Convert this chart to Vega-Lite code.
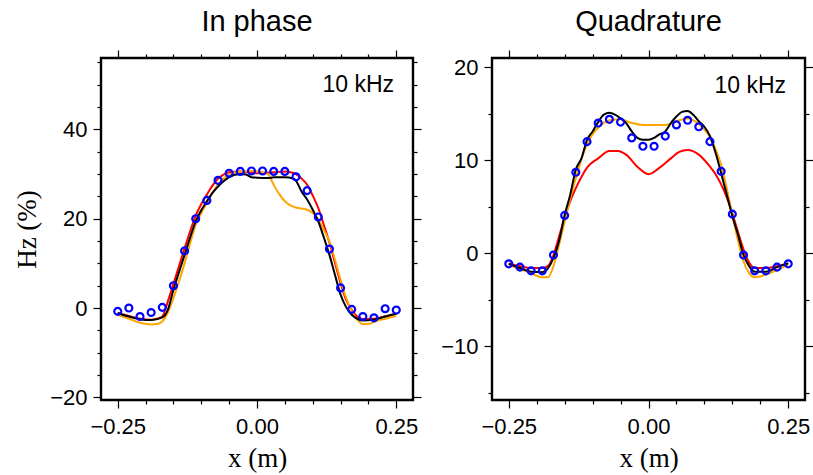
{
  "$schema": "https://vega.github.io/schema/vega-lite/v6.json",
  "background": "white",
  "padding": {"left": 12, "top": 7, "right": 2, "bottom": 3},
  "bounds": "flush",
  "spacing": 79,
  "datasets": {
    "ipRed": [
      {"x": -0.25, "y": -1.1}, {"x": -0.23, "y": -1.8}, {"x": -0.21, "y": -2.4}, {"x": -0.19, "y": -2.6}, {"x": -0.18, "y": -2.4},
      {"x": -0.17, "y": -1.9}, {"x": -0.16, "y": 1.5}, {"x": -0.15, "y": 5.4}, {"x": -0.14, "y": 9.4}, {"x": -0.13, "y": 13.4},
      {"x": -0.12, "y": 17.2}, {"x": -0.11, "y": 20.7}, {"x": -0.1, "y": 23.3}, {"x": -0.09, "y": 25.4}, {"x": -0.08, "y": 27.4},
      {"x": -0.07, "y": 29.0}, {"x": -0.06, "y": 29.9}, {"x": -0.05, "y": 30.4}, {"x": -0.03, "y": 30.6}, {"x": 0.0, "y": 30.2},
      {"x": 0.03, "y": 30.4}, {"x": 0.05, "y": 30.6}, {"x": 0.06, "y": 30.4}, {"x": 0.07, "y": 30.0}, {"x": 0.08, "y": 29.0},
      {"x": 0.09, "y": 27.6}, {"x": 0.1, "y": 25.2}, {"x": 0.11, "y": 22.4}, {"x": 0.12, "y": 18.6}, {"x": 0.13, "y": 14.6},
      {"x": 0.14, "y": 10.1}, {"x": 0.15, "y": 5.6}, {"x": 0.16, "y": 1.8}, {"x": 0.17, "y": -0.4}, {"x": 0.18, "y": -1.9},
      {"x": 0.19, "y": -2.5}, {"x": 0.21, "y": -2.4}, {"x": 0.23, "y": -1.9}, {"x": 0.25, "y": -1.3}
    ],
    "ipOrange": [
      {"x": -0.25, "y": -1.5}, {"x": -0.23, "y": -2.4}, {"x": -0.21, "y": -3.3}, {"x": -0.19, "y": -3.7}, {"x": -0.18, "y": -3.6},
      {"x": -0.17, "y": -3.0}, {"x": -0.16, "y": -1.0}, {"x": -0.15, "y": 2.2}, {"x": -0.14, "y": 6.0}, {"x": -0.13, "y": 10.0},
      {"x": -0.12, "y": 14.5}, {"x": -0.11, "y": 18.7}, {"x": -0.1, "y": 21.3}, {"x": -0.09, "y": 23.5}, {"x": -0.08, "y": 25.7},
      {"x": -0.07, "y": 27.6}, {"x": -0.06, "y": 29.0}, {"x": -0.05, "y": 29.9}, {"x": -0.03, "y": 30.6}, {"x": -0.01, "y": 30.7},
      {"x": 0.01, "y": 30.4}, {"x": 0.02, "y": 29.9}, {"x": 0.03, "y": 27.6}, {"x": 0.04, "y": 25.5}, {"x": 0.05, "y": 23.9},
      {"x": 0.06, "y": 23.0}, {"x": 0.07, "y": 22.5}, {"x": 0.09, "y": 22.0}, {"x": 0.1, "y": 21.3}, {"x": 0.11, "y": 19.8},
      {"x": 0.12, "y": 17.5}, {"x": 0.13, "y": 14.9}, {"x": 0.14, "y": 10.8}, {"x": 0.15, "y": 6.3}, {"x": 0.16, "y": 2.3},
      {"x": 0.17, "y": -0.7}, {"x": 0.18, "y": -2.6}, {"x": 0.19, "y": -3.6}, {"x": 0.2, "y": -3.6}, {"x": 0.21, "y": -3.1},
      {"x": 0.23, "y": -2.4}, {"x": 0.25, "y": -1.8}
    ],
    "ipBlack": [
      {"x": -0.25, "y": -1.1}, {"x": -0.23, "y": -1.9}, {"x": -0.21, "y": -2.5}, {"x": -0.19, "y": -2.7}, {"x": -0.17, "y": -2.1},
      {"x": -0.16, "y": -0.4}, {"x": -0.15, "y": 4.1}, {"x": -0.14, "y": 8.0}, {"x": -0.13, "y": 11.9}, {"x": -0.12, "y": 15.8},
      {"x": -0.11, "y": 19.4}, {"x": -0.1, "y": 21.9}, {"x": -0.09, "y": 23.9}, {"x": -0.08, "y": 25.8}, {"x": -0.07, "y": 27.2},
      {"x": -0.06, "y": 28.4}, {"x": -0.05, "y": 29.3}, {"x": -0.03, "y": 30.0}, {"x": -0.02, "y": 29.9}, {"x": -0.01, "y": 29.3},
      {"x": 0.0, "y": 29.2}, {"x": 0.01, "y": 29.1}, {"x": 0.02, "y": 29.1}, {"x": 0.03, "y": 29.3}, {"x": 0.05, "y": 29.3},
      {"x": 0.065, "y": 29.0}, {"x": 0.07, "y": 28.5}, {"x": 0.08, "y": 26.1}, {"x": 0.09, "y": 24.3}, {"x": 0.1, "y": 22.0},
      {"x": 0.11, "y": 19.4}, {"x": 0.12, "y": 15.8}, {"x": 0.13, "y": 11.9}, {"x": 0.14, "y": 7.4}, {"x": 0.15, "y": 3.0},
      {"x": 0.16, "y": 0.2}, {"x": 0.17, "y": -1.5}, {"x": 0.18, "y": -2.4}, {"x": 0.19, "y": -2.8}, {"x": 0.21, "y": -2.6},
      {"x": 0.23, "y": -1.9}, {"x": 0.25, "y": -1.3}
    ],
    "ipObs": [
      {"x": -0.25, "y": -0.75}, {"x": -0.23, "y": 0.0}, {"x": -0.21, "y": -1.9}, {"x": -0.19, "y": -1.0}, {"x": -0.17, "y": 0.15},
      {"x": -0.15, "y": 5.0}, {"x": -0.13, "y": 12.8}, {"x": -0.11, "y": 20.0}, {"x": -0.09, "y": 24.1}, {"x": -0.07, "y": 28.6},
      {"x": -0.05, "y": 30.2}, {"x": -0.03, "y": 30.6}, {"x": -0.01, "y": 30.7}, {"x": 0.01, "y": 30.7}, {"x": 0.03, "y": 30.6},
      {"x": 0.05, "y": 30.6}, {"x": 0.07, "y": 29.4}, {"x": 0.09, "y": 26.3}, {"x": 0.11, "y": 20.4}, {"x": 0.13, "y": 13.2},
      {"x": 0.15, "y": 4.5}, {"x": 0.17, "y": -0.3}, {"x": 0.19, "y": -1.9}, {"x": 0.21, "y": -2.2}, {"x": 0.23, "y": -0.15},
      {"x": 0.25, "y": -0.45}
    ],
    "qRed": [
      {"x": -0.25, "y": -1.1}, {"x": -0.23, "y": -1.4}, {"x": -0.21, "y": -1.6}, {"x": -0.19, "y": -1.6}, {"x": -0.18, "y": -1.4},
      {"x": -0.17, "y": -0.2}, {"x": -0.16, "y": 1.8}, {"x": -0.15, "y": 3.8}, {"x": -0.14, "y": 5.6}, {"x": -0.13, "y": 7.0},
      {"x": -0.12, "y": 8.2}, {"x": -0.11, "y": 9.2}, {"x": -0.09, "y": 10.2}, {"x": -0.07, "y": 11.0}, {"x": -0.055, "y": 11.0},
      {"x": -0.04, "y": 10.6}, {"x": -0.02, "y": 9.3}, {"x": 0.0, "y": 8.5}, {"x": 0.02, "y": 9.2}, {"x": 0.04, "y": 10.2},
      {"x": 0.055, "y": 10.9}, {"x": 0.07, "y": 11.1}, {"x": 0.09, "y": 10.6}, {"x": 0.11, "y": 9.3}, {"x": 0.12, "y": 8.5},
      {"x": 0.13, "y": 7.4}, {"x": 0.14, "y": 6.0}, {"x": 0.15, "y": 4.3}, {"x": 0.16, "y": 2.3}, {"x": 0.17, "y": 0.4},
      {"x": 0.18, "y": -1.0}, {"x": 0.19, "y": -1.6}, {"x": 0.21, "y": -1.6}, {"x": 0.23, "y": -1.4}, {"x": 0.25, "y": -1.1}
    ],
    "qOrange": [
      {"x": -0.25, "y": -1.25}, {"x": -0.23, "y": -1.7}, {"x": -0.21, "y": -2.15}, {"x": -0.19, "y": -2.6}, {"x": -0.18, "y": -2.6},
      {"x": -0.17, "y": -1.4}, {"x": -0.16, "y": 0.9}, {"x": -0.15, "y": 3.4}, {"x": -0.14, "y": 5.9}, {"x": -0.13, "y": 8.1},
      {"x": -0.12, "y": 10.1}, {"x": -0.11, "y": 11.7}, {"x": -0.1, "y": 12.8}, {"x": -0.09, "y": 13.5}, {"x": -0.07, "y": 14.3},
      {"x": -0.05, "y": 14.4}, {"x": -0.03, "y": 14.0}, {"x": -0.01, "y": 13.8}, {"x": 0.01, "y": 13.8}, {"x": 0.03, "y": 13.8},
      {"x": 0.05, "y": 14.2}, {"x": 0.07, "y": 14.5}, {"x": 0.09, "y": 13.9}, {"x": 0.1, "y": 13.3}, {"x": 0.11, "y": 12.5},
      {"x": 0.12, "y": 11.2}, {"x": 0.13, "y": 9.5}, {"x": 0.14, "y": 7.0}, {"x": 0.15, "y": 4.1}, {"x": 0.16, "y": 1.4},
      {"x": 0.17, "y": -0.9}, {"x": 0.18, "y": -2.15}, {"x": 0.19, "y": -2.6}, {"x": 0.21, "y": -2.3}, {"x": 0.23, "y": -1.8},
      {"x": 0.25, "y": -1.25}
    ],
    "qBlack": [
      {"x": -0.25, "y": -1.15}, {"x": -0.23, "y": -1.6}, {"x": -0.21, "y": -2.0}, {"x": -0.19, "y": -2.05}, {"x": -0.17, "y": -0.5},
      {"x": -0.16, "y": 1.3}, {"x": -0.15, "y": 4.1}, {"x": -0.14, "y": 6.3}, {"x": -0.13, "y": 9.0}, {"x": -0.12, "y": 10.2},
      {"x": -0.11, "y": 12.2}, {"x": -0.1, "y": 13.1}, {"x": -0.09, "y": 14.1}, {"x": -0.08, "y": 14.9}, {"x": -0.07, "y": 15.1},
      {"x": -0.06, "y": 14.9}, {"x": -0.05, "y": 14.5}, {"x": -0.04, "y": 14.0}, {"x": -0.03, "y": 13.1}, {"x": -0.02, "y": 12.4},
      {"x": -0.01, "y": 12.2}, {"x": 0.0, "y": 12.2}, {"x": 0.01, "y": 12.4}, {"x": 0.02, "y": 12.8}, {"x": 0.03, "y": 13.1},
      {"x": 0.04, "y": 14.0}, {"x": 0.05, "y": 14.7}, {"x": 0.06, "y": 15.2}, {"x": 0.07, "y": 15.3}, {"x": 0.08, "y": 14.9},
      {"x": 0.09, "y": 14.2}, {"x": 0.1, "y": 13.6}, {"x": 0.11, "y": 12.6}, {"x": 0.12, "y": 10.8}, {"x": 0.13, "y": 8.6},
      {"x": 0.14, "y": 6.3}, {"x": 0.15, "y": 4.0}, {"x": 0.16, "y": 2.0}, {"x": 0.17, "y": -0.2}, {"x": 0.18, "y": -1.4},
      {"x": 0.19, "y": -2.0}, {"x": 0.21, "y": -2.0}, {"x": 0.23, "y": -1.5}, {"x": 0.25, "y": -1.1}
    ],
    "qObs": [
      {"x": -0.25, "y": -1.15}, {"x": -0.23, "y": -1.5}, {"x": -0.21, "y": -1.9}, {"x": -0.19, "y": -1.9}, {"x": -0.17, "y": -0.2},
      {"x": -0.15, "y": 4.06}, {"x": -0.13, "y": 8.7}, {"x": -0.11, "y": 12.0}, {"x": -0.09, "y": 14.0}, {"x": -0.07, "y": 14.4},
      {"x": -0.05, "y": 14.1}, {"x": -0.03, "y": 12.4}, {"x": -0.01, "y": 11.5}, {"x": 0.01, "y": 11.5}, {"x": 0.03, "y": 12.6},
      {"x": 0.05, "y": 13.8}, {"x": 0.07, "y": 14.3}, {"x": 0.09, "y": 13.6}, {"x": 0.11, "y": 12.0}, {"x": 0.13, "y": 8.8},
      {"x": 0.15, "y": 4.2}, {"x": 0.17, "y": -0.2}, {"x": 0.19, "y": -1.9}, {"x": 0.21, "y": -1.9}, {"x": 0.23, "y": -1.5},
      {"x": 0.25, "y": -1.15}
    ],
    "ipLabel": [{"x": 0.246, "y": 49.9, "label": "10 kHz"}],
    "qLabel": [{"x": 0.246, "y": 18.0, "label": "10 kHz"}]
  },
  "hconcat": [
    {
      "title": "In phase",
      "width": 312,
      "height": 342,
      "layer": [
        {
          "data": {"name": "ipRed"},
          "mark": {"type": "line", "color": "#ff0000", "strokeWidth": 2, "interpolate": "monotone"},
          "encoding": {
            "x": {"field": "x", "type": "quantitative", "scale": {"domain": [-0.28, 0.28], "nice": false, "zero": false},
              "axis": {"orient": "bottom", "title": "x (m)", "values": [-0.25, -0.2, -0.15, -0.1, -0.05, 0, 0.05, 0.1, 0.15, 0.2, 0.25], "format": ".2f",
                "labelExpr": "abs(datum.value) < 0.001 || abs(abs(datum.value) - 0.25) < 0.001 ? datum.label : ''",
                "tickSize": {"condition": {"test": "abs(datum.value) < 0.001 || abs(abs(datum.value) - 0.25) < 0.001", "value": 8}, "value": 4}}},
            "y": {"field": "y", "type": "quantitative", "scale": {"domain": [-20.6, 56], "nice": false, "zero": false},
              "axis": {"orient": "left", "title": "Hz (%)", "values": [-20, -15, -10, -5, 0, 5, 10, 15, 20, 25, 30, 35, 40, 45, 50, 55],
                "labelExpr": "datum.value % 20 === 0 ? datum.label : ''",
                "tickSize": {"condition": {"test": "datum.value % 20 === 0", "value": 8}, "value": 4}}}
          }
        },
        {
          "data": {"name": "ipOrange"},
          "mark": {"type": "line", "color": "#ffa500", "strokeWidth": 2, "interpolate": "monotone"},
          "encoding": {
            "x": {"field": "x", "type": "quantitative", "axis": null},
            "y": {"field": "y", "type": "quantitative", "axis": null}
          }
        },
        {
          "data": {"name": "ipBlack"},
          "mark": {"type": "line", "color": "#000000", "strokeWidth": 2, "interpolate": "monotone"},
          "encoding": {
            "x": {"field": "x", "type": "quantitative", "axis": null},
            "y": {"field": "y", "type": "quantitative", "axis": null}
          }
        },
        {
          "data": {"name": "ipObs"},
          "mark": {"type": "point", "shape": "circle", "filled": false, "color": "#0000ff", "strokeWidth": 2.2, "size": 48, "opacity": 1},
          "encoding": {
            "x": {"field": "x", "type": "quantitative",
              "axis": {"orient": "top", "title": null, "labels": false, "values": [-0.25, -0.2, -0.15, -0.1, -0.05, 0, 0.05, 0.1, 0.15, 0.2, 0.25],
                "tickSize": {"condition": {"test": "abs(datum.value) < 0.001 || abs(abs(datum.value) - 0.25) < 0.001", "value": 8}, "value": 4}}},
            "y": {"field": "y", "type": "quantitative",
              "axis": {"orient": "right", "title": null, "labels": false, "values": [-20, -15, -10, -5, 0, 5, 10, 15, 20, 25, 30, 35, 40, 45, 50, 55],
                "tickSize": {"condition": {"test": "datum.value % 20 === 0", "value": 8}, "value": 4}}}
          }
        },
        {
          "data": {"name": "ipLabel"},
          "mark": {"type": "text", "align": "right", "baseline": "middle", "font": "Liberation Sans", "fontSize": 23, "color": "black"},
          "encoding": {
            "x": {"field": "x", "type": "quantitative", "axis": null},
            "y": {"field": "y", "type": "quantitative", "axis": null},
            "text": {"field": "label"}
          }
        }
      ]
    },
    {
      "title": "Quadrature",
      "width": 313,
      "height": 342,
      "layer": [
        {
          "data": {"name": "qRed"},
          "mark": {"type": "line", "color": "#ff0000", "strokeWidth": 2, "interpolate": "monotone"},
          "encoding": {
            "x": {"field": "x", "type": "quantitative", "scale": {"domain": [-0.28, 0.28], "nice": false, "zero": false},
              "axis": {"orient": "bottom", "title": "x (m)", "values": [-0.25, -0.2, -0.15, -0.1, -0.05, 0, 0.05, 0.1, 0.15, 0.2, 0.25], "format": ".2f",
                "labelExpr": "abs(datum.value) < 0.001 || abs(abs(datum.value) - 0.25) < 0.001 ? datum.label : ''",
                "tickSize": {"condition": {"test": "abs(datum.value) < 0.001 || abs(abs(datum.value) - 0.25) < 0.001", "value": 8}, "value": 4}}},
            "y": {"field": "y", "type": "quantitative", "scale": {"domain": [-15.8, 21], "nice": false, "zero": false},
              "axis": {"orient": "left", "title": null, "values": [-15, -10, -5, 0, 5, 10, 15, 20],
                "labelExpr": "datum.value % 10 === 0 ? datum.label : ''",
                "tickSize": {"condition": {"test": "datum.value % 10 === 0", "value": 8}, "value": 4}}}
          }
        },
        {
          "data": {"name": "qOrange"},
          "mark": {"type": "line", "color": "#ffa500", "strokeWidth": 2, "interpolate": "monotone"},
          "encoding": {
            "x": {"field": "x", "type": "quantitative", "axis": null},
            "y": {"field": "y", "type": "quantitative", "axis": null}
          }
        },
        {
          "data": {"name": "qBlack"},
          "mark": {"type": "line", "color": "#000000", "strokeWidth": 2, "interpolate": "monotone"},
          "encoding": {
            "x": {"field": "x", "type": "quantitative", "axis": null},
            "y": {"field": "y", "type": "quantitative", "axis": null}
          }
        },
        {
          "data": {"name": "qObs"},
          "mark": {"type": "point", "shape": "circle", "filled": false, "color": "#0000ff", "strokeWidth": 2.2, "size": 48, "opacity": 1},
          "encoding": {
            "x": {"field": "x", "type": "quantitative",
              "axis": {"orient": "top", "title": null, "labels": false, "values": [-0.25, -0.2, -0.15, -0.1, -0.05, 0, 0.05, 0.1, 0.15, 0.2, 0.25],
                "tickSize": {"condition": {"test": "abs(datum.value) < 0.001 || abs(abs(datum.value) - 0.25) < 0.001", "value": 8}, "value": 4}}},
            "y": {"field": "y", "type": "quantitative",
              "axis": {"orient": "right", "title": null, "labels": false, "values": [-15, -10, -5, 0, 5, 10, 15, 20],
                "tickSize": {"condition": {"test": "datum.value % 10 === 0", "value": 8}, "value": 4}}}
          }
        },
        {
          "data": {"name": "qLabel"},
          "mark": {"type": "text", "align": "right", "baseline": "middle", "font": "Liberation Sans", "fontSize": 23, "color": "black"},
          "encoding": {
            "x": {"field": "x", "type": "quantitative", "axis": null},
            "y": {"field": "y", "type": "quantitative", "axis": null},
            "text": {"field": "label"}
          }
        }
      ]
    }
  ],
  "config": {
    "view": {"stroke": "black", "strokeWidth": 2.4},
    "axis": {
      "domain": false, "grid": false, "ticks": true, "tickColor": "black", "tickWidth": 1.2,
      "labelFont": "Liberation Sans", "labelFontSize": 22, "labelColor": "black", "labelFlush": false,
      "titleFont": "Liberation Serif", "titleFontSize": 27, "titleFontWeight": "normal", "titleColor": "black", "titlePadding": 8
    },
    "axisX": {"labelPadding": 8},
    "axisY": {"labelPadding": 6},
    "title": {"font": "Liberation Sans", "fontSize": 29, "fontWeight": "normal", "color": "black", "offset": 12}
  }
}
